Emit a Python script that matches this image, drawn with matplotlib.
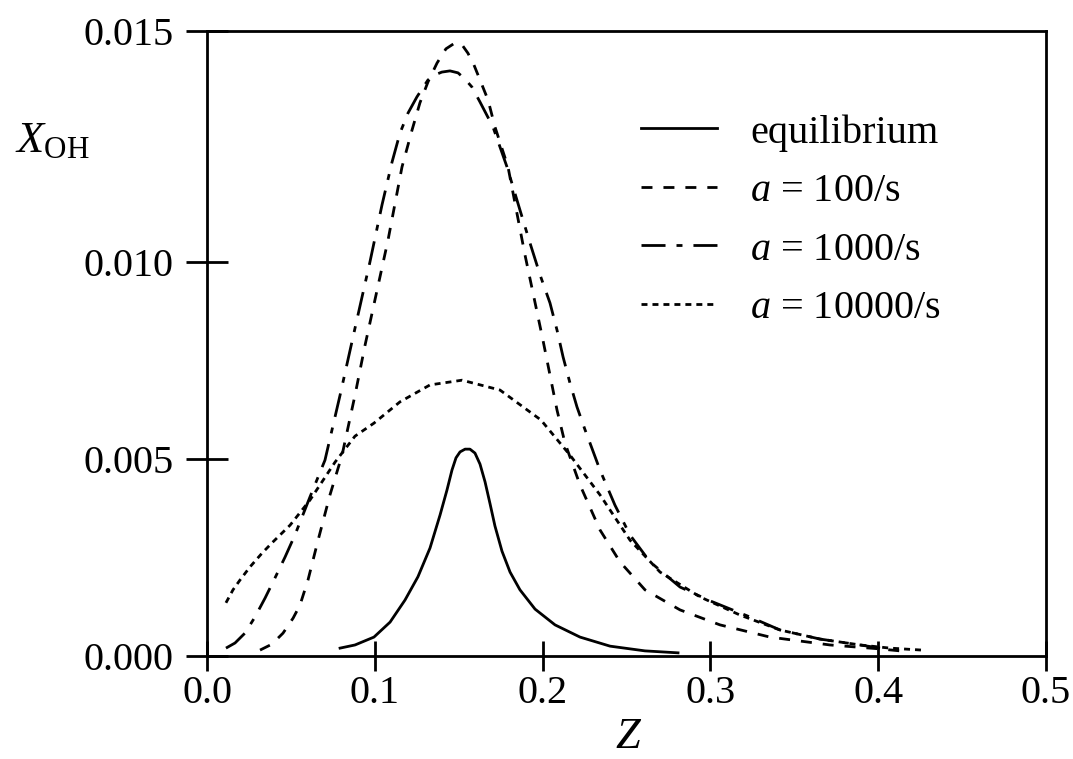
import matplotlib
matplotlib.use("Agg")
import matplotlib.pyplot as plt

plt.rcParams['font.family'] = ['Liberation Serif', 'DejaVu Serif']
plt.rcParams['mathtext.fontset'] = 'custom'
plt.rcParams['mathtext.rm'] = 'Liberation Serif'
plt.rcParams['mathtext.it'] = 'Liberation Serif:italic'
plt.rcParams['lines.scale_dashes'] = False

# ---- data ----
z_eq = [0.0793, 0.0882, 0.0995, 0.1091, 0.1180, 0.1257, 0.1329, 0.1389, 0.1430, 0.1460,
        0.1484, 0.1508, 0.1538, 0.1567, 0.1597, 0.1627, 0.1657, 0.1687, 0.1716, 0.1758,
        0.1806, 0.1865, 0.1955, 0.2074, 0.2223, 0.2402, 0.2610, 0.2807]
x_eq = [0.00020, 0.00028, 0.00048, 0.00086, 0.00142, 0.00201, 0.00274, 0.00358, 0.00421, 0.00472,
        0.00503, 0.00518, 0.00525, 0.00525, 0.00515, 0.00487, 0.00442, 0.00386, 0.00330, 0.00266,
        0.00213, 0.00168, 0.00119, 0.00079, 0.00048, 0.00025, 0.00013, 0.00008]

z_100 = [0.0316, 0.0387, 0.0453, 0.0513, 0.0554, 0.0602, 0.0662, 0.0733, 0.0805, 0.0882,
         0.0942, 0.1001, 0.1079, 0.1162, 0.1222, 0.1269, 0.1317, 0.1371, 0.1424, 0.1478,
         0.1520, 0.1555, 0.1591, 0.1627, 0.1675, 0.1716, 0.1794, 0.1895, 0.2002, 0.2086,
         0.2133, 0.2223, 0.2342, 0.2461, 0.2610, 0.2819, 0.3057, 0.3355, 0.3713, 0.4011, 0.4130]
x_100 = [0.00015, 0.00030, 0.00058, 0.00096, 0.00129, 0.00193, 0.00294, 0.00409, 0.00510, 0.00662,
         0.00789, 0.00904, 0.01056, 0.01241, 0.01335, 0.01404, 0.01457, 0.01505, 0.01541, 0.01556,
         0.01551, 0.01530, 0.01500, 0.01462, 0.01411, 0.01343, 0.01241, 0.01018, 0.00802, 0.00624,
         0.00541, 0.00434, 0.00320, 0.00239, 0.00168, 0.00117, 0.00079, 0.00048, 0.00028, 0.00018, 0.00013]

z_1000 = [0.0113, 0.0167, 0.0226, 0.0286, 0.0346, 0.0405, 0.0465, 0.0524, 0.0614, 0.0703,
          0.0793, 0.0882, 0.0971, 0.1043, 0.1103, 0.1150, 0.1198, 0.1251, 0.1317, 0.1359,
          0.1400, 0.1448, 0.1496, 0.1538, 0.1579, 0.1627, 0.1704, 0.1788, 0.1865, 0.1925,
          0.1985, 0.2044, 0.2086, 0.2122, 0.2163, 0.2205, 0.2253, 0.2282, 0.2342, 0.2431,
          0.2521, 0.2640, 0.2819, 0.2998, 0.3236, 0.3415, 0.3653, 0.3892, 0.4011]
x_1000 = [0.00020, 0.00033, 0.00058, 0.00099, 0.00147, 0.00198, 0.00251, 0.00307, 0.00404, 0.00497,
          0.00662, 0.00832, 0.01000, 0.01145, 0.01254, 0.01327, 0.01378, 0.01419, 0.01462, 0.01475,
          0.01482, 0.01485, 0.01480, 0.01464, 0.01444, 0.01406, 0.01343, 0.01241, 0.01132, 0.01048,
          0.00967, 0.00896, 0.00827, 0.00759, 0.00693, 0.00632, 0.00574, 0.00541, 0.00472, 0.00383,
          0.00307, 0.00239, 0.00175, 0.00140, 0.00099, 0.00066, 0.00043, 0.00028, 0.00020]

z_10000 = [0.0113, 0.0155, 0.0197, 0.0256, 0.0328, 0.0387, 0.0495, 0.0614, 0.0763, 0.0882,
           0.0995, 0.1150, 0.1329, 0.1520, 0.1746, 0.1990, 0.2163, 0.2342, 0.2521, 0.2700,
           0.2938, 0.3176, 0.3415, 0.3653, 0.3892, 0.4070, 0.4261]
x_10000 = [0.00135, 0.00168, 0.00193, 0.00226, 0.00261, 0.00287, 0.00332, 0.00396, 0.00492, 0.00558,
           0.00591, 0.00645, 0.00688, 0.00700, 0.00675, 0.00599, 0.00510, 0.00409, 0.00294, 0.00213,
           0.00150, 0.00104, 0.00066, 0.00043, 0.00028, 0.00020, 0.00015]

labels = ['equilibrium', r'$a$ = 100/s', r'$a$ = 1000/s', r'$a$ = 10000/s']
y_top = 0.01587
y_ticks = [0.0, 0.005, 0.010, y_top]
y_ticklabels = ['0.000', '0.005', '0.010', '0.015']
x_ticks = [0.0, 0.1, 0.2, 0.3, 0.4, 0.5]
x_ticklabels = ['0.0', '0.1', '0.2', '0.3', '0.4', '0.5']

# ---- figure ----
fig = plt.figure(figsize=(10.73, 7.59), dpi=100)
ax = fig.add_axes([207/1073, 1 - 656/759, (1046-207)/1073, (656-30.7)/759])

lw = 2.0
ax.plot(z_eq, x_eq, color='black', lw=lw, linestyle='-', label=labels[0])
ax.plot(z_100, x_100, color='black', lw=lw, linestyle=(0, (7.9, 7.9)), label=labels[1])
ax.plot(z_1000, x_1000, color='black', lw=lw, linestyle=(0, (17.3, 7.9, 4.3, 7.9)), label=labels[2])
ax.plot(z_10000, x_10000, color='black', lw=lw, linestyle=(0, (4.3, 3.6)), label=labels[3])

ax.set_xlim(0, 0.5)
ax.set_ylim(0, y_top)
ax.set_xticks(x_ticks)
ax.set_xticklabels(x_ticklabels)
ax.set_yticks(y_ticks)
ax.set_yticklabels(y_ticklabels)

for s in ax.spines.values():
    s.set_linewidth(lw)
ax.tick_params(axis='both', direction='inout', width=lw, labelsize=29, colors='black')
ax.tick_params(axis='x', length=21.6, pad=3)
ax.tick_params(axis='y', length=30, pad=9)

fs = 29
leg = ax.legend(loc='upper left', bbox_to_anchor=(641/1073, 1 - 114/759),
                bbox_transform=fig.transFigure, frameon=False, fontsize=fs,
                borderpad=0, borderaxespad=0, handlelength=76/(fs*100/72),
                handletextpad=0.82, labelspacing=0.53)

fig.text(15/1073, 1 - 152/759, r'$X_{\mathrm{OH}}$', fontsize=32, ha='left', va='baseline')
fig.text(628/1073, 1 - 748/759, 'Z', fontsize=32, style='italic', ha='center', va='baseline')

fig.savefig('out.png', dpi=100)
